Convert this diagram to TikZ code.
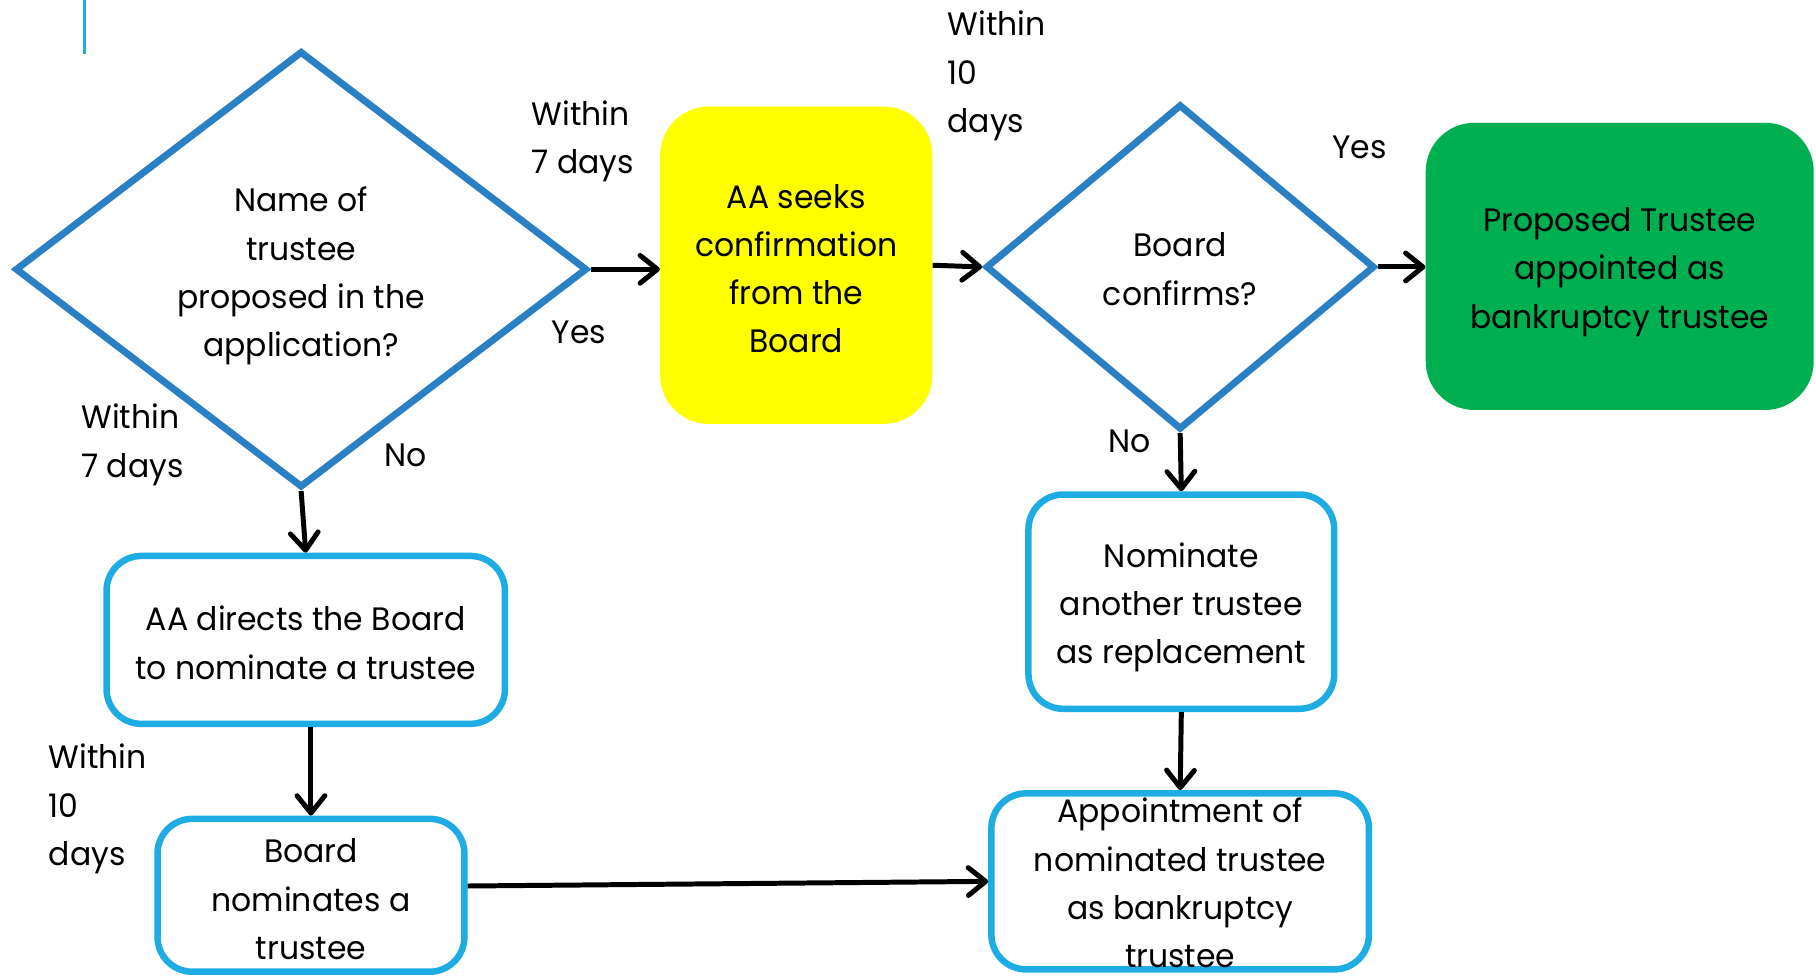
\documentclass[tikz,border=0pt]{standalone}
\usepackage{fontspec}
\setmainfont[FakeStretch=0.97]{Poppins}
\usetikzlibrary{shapes.geometric,arrows.meta}
\definecolor{diaBlue}{RGB}{42,128,197}
\definecolor{boxBlue}{RGB}{29,172,227}
\definecolor{noteYellow}{RGB}{255,255,0}
\definecolor{okGreen}{RGB}{0,176,80}
\begin{document}
\begin{tikzpicture}[x=1pt,y=-1pt,
  txt/.style={font=\fontsize{28}{41.7}\selectfont, align=center, text=black, inner sep=0pt},
  decision/.style={diamond, draw=diaBlue, line width=6pt, inner sep=0pt, shape aspect=1.3},
  stepbox/.style={rectangle, rounded corners=30pt, draw=boxBlue, line width=5.6pt, inner sep=0pt},
  solidbox/.style={rectangle, rounded corners=42pt, inner sep=0pt},
  note/.style={font=\fontsize{28}{41.7}\selectfont, align=left, inner sep=0pt, anchor=west},
  tag/.style={font=\fontsize{28}{41.7}\selectfont, inner sep=0pt},
  flow/.style={line width=4.3pt, -{Straight Barb[length=15pt,width=24pt,round]}},
]
\useasboundingbox (0,0) rectangle (1568,844);

% accent bar in the upper left corner
\draw[boxBlue, line width=2.6pt] (73,0) -- (73,47);

% decisions
\node[decision, minimum width=494, minimum height=377] (askname) at (260,232.5) {};
\node[txt] (askname-t) at ([yshift=-6pt]askname.center)
  {Name of\\trustee\\proposed in the\\application?};
\node[decision, minimum width=336, minimum height=281] (confirm) at (1019,230.5) {};
\node[txt] (confirm-t) at ([yshift=-2pt]confirm.center) {Board\\confirms?};

% filled steps
\node[solidbox, fill=noteYellow, minimum width=235, minimum height=274] (seek) at (687.5,229) {};
\node[txt] (seek-t) at ([yshift=-3pt]seek.center)
  {AA seeks\\confirmation\\from the\\Board};
\node[solidbox, fill=okGreen, minimum width=335, minimum height=248] (trusteeok) at (1398.5,230) {};
\node[txt] (trusteeok-t) at ([yshift=-5pt]trusteeok.center)
  {Proposed Trustee\\appointed as\\bankruptcy trustee};

% outlined steps
\node[stepbox, minimum width=344, minimum height=145] (directs) at (264,552.5) {};
\node[txt] (directs-t) at ([yshift=-2.5pt]directs.center)
  {AA directs the Board\\to nominate a trustee};
\node[stepbox, minimum width=265, minimum height=132] (boardnom) at (268.5,773) {};
\node[txt] (boardnom-t) at ([yshift=-3.5pt]boardnom.center)
  {Board\\nominates a\\trustee};
\node[stepbox, minimum width=264, minimum height=185] (nominate) at (1020,519.5) {};
\node[txt] (nominate-t) at ([yshift=-5pt]nominate.center)
  {Nominate\\another trustee\\as replacement};
\node[stepbox, minimum width=326, minimum height=152] (appt) at (1019,761) {};
\node[txt] (appt-t) at ([yshift=-1.5pt]appt.center)
  {Appointment of\\nominated trustee\\as bankruptcy\\trustee};

% connectors
\draw[flow] (askname.east) -- (askname.east -| seek.west);
\draw[flow] (seek.east) -- (confirm.west);
\draw[flow] (confirm.east) -- (confirm.east -| trusteeok.west);
\draw[flow] (confirm.south) -- (nominate.north);
\draw[flow] (nominate.south) -- (appt.north);
\draw[flow] (askname.south) -- (directs.north);
\draw[flow] (directs.south -| boardnom.north) -- (boardnom.north);
\draw[flow] ([yshift=8pt]boardnom.east) -- (appt.west);

% branch labels and time limits
\node[note] (w7a) at (459,122) {Within\\7 days};
\node[tag] (yes1) at (500,287) {Yes};
\node[note] (w10a) at (818,65.5) {Within\\10\\days};
\node[tag] (yes2) at (1174,127) {Yes};
\node[tag] (no2) at (975,381) {No};
\node[note] (w7b) at (70,384) {Within\\7 days};
\node[tag] (no1) at (350,393) {No};
\node[note] (w10b) at (42,698.5) {Within\\10\\days};
\end{tikzpicture}
\end{document}
